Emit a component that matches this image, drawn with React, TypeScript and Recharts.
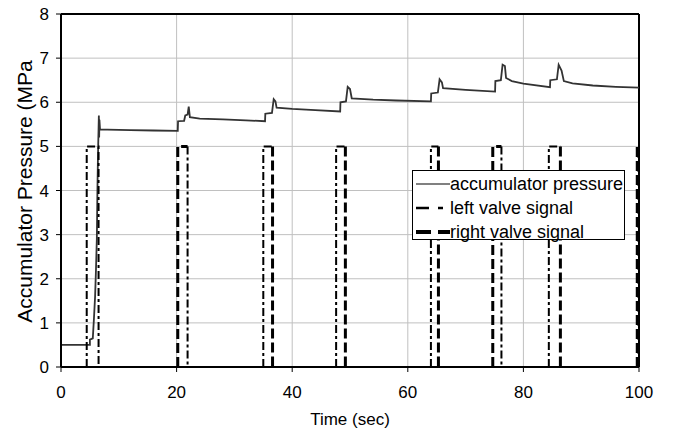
import React from 'react';
import {
  LineChart,
  Line,
  XAxis,
  YAxis,
  CartesianGrid,
  Legend,
  Label,
  ReferenceLine
} from 'recharts';

// Accumulator pressure trace (time in sec, pressure in MPa)
const pressureTime = [
  0, 2, 5.0, 5.0, 5.5, 5.7, 5.9, 6.05, 6.2, 6.3, 6.4, 6.55, 6.6, 6.65, 6.75,
  8, 12, 16, 20.2, 20.25, 21.3, 21.5, 21.9, 22.1, 22.3, 24, 28, 32, 35.3,
  35.35, 36.5, 36.8, 37.1, 37.3, 40, 44, 48.3, 48.35, 49.3, 49.6, 50.0, 50.3,
  54, 58, 64, 64.05, 65.2, 65.5, 65.9, 66.1, 70, 75.1, 75.15, 76.1, 76.4,
  76.8, 77, 78, 80, 84.6, 84.65, 85.8, 86.1, 86.6, 87.0, 88.5, 92, 96, 100
];
const pressureValue = [
  0.5, 0.5, 0.5, 0.62, 0.65, 1.1, 1.6, 2.2, 2.9, 4.0, 4.8, 5.7, 5.2, 5.6, 5.38,
  5.38, 5.37, 5.36, 5.35, 5.57, 5.58, 5.7, 5.72, 5.9, 5.66, 5.63, 5.61, 5.59, 5.57,
  5.74, 5.76, 6.07, 6.02, 5.88, 5.85, 5.82, 5.79, 6.0, 6.02, 6.35, 6.3, 6.09,
  6.06, 6.04, 6.02, 6.2, 6.22, 6.52, 6.45, 6.32, 6.28, 6.24, 6.48, 6.5, 6.85,
  6.82, 6.55, 6.48, 6.42, 6.34, 6.5, 6.52, 6.85, 6.72, 6.48, 6.43, 6.38, 6.35, 6.33
];

// Valve signal pulses (sec); which signal draws the opening / closing edge
const valveOn = [4.45, 20.2, 35.0, 47.6, 64.0, 74.7, 84.4, 99.7];
const valveOff = [6.5, 21.9, 36.6, 49.2, 65.3, 76.2, 86.4, 100];
const openedBy = ['left', 'right', 'left', 'left', 'left', 'right', 'left', 'right'];
const closedBy = ['left', 'left', 'right', 'right', 'right', 'left', 'right', 'right'];
const valveHigh = 5;

const xTicks = [0, 20, 40, 60, 80, 100];
const yTicks = [0, 1, 2, 3, 4, 5, 6, 7, 8];

const FONT = '"Liberation Sans", Arial, sans-serif';

const pressureData = pressureTime.map((t, i) => ({ t, v: pressureValue[i] }));

function valveSeries(side: string) {
  const pts: { t: number; v: number | null }[] = [];
  valveOn.forEach((on, i) => {
    const off = valveOff[i];
    if (openedBy[i] === side) {
      pts.push({ t: on, v: 0 }, { t: on, v: valveHigh }, { t: off, v: valveHigh });
      if (closedBy[i] === side) pts.push({ t: off, v: 0 });
      pts.push({ t: off, v: null });
    } else if (closedBy[i] === side) {
      pts.push({ t: off, v: valveHigh }, { t: off, v: 0 }, { t: off, v: null });
    }
  });
  return pts;
}

const leftValveData = valveSeries('left');
const rightValveData = valveSeries('right');

const legendItems = [
  { name: 'accumulator pressure', stroke: '#808080', width: 2, dash: undefined },
  { name: 'left valve signal', stroke: '#000', width: 2.5, dash: '13 9 5 9' },
  { name: 'right valve signal', stroke: '#000', width: 4, dash: '15 7' }
];

const ChartLegend = () => (
  <div
    style={{
      width: 211,
      height: 68,
      border: '1px solid #000',
      background: '#fff',
      fontFamily: FONT,
      fontSize: 18,
      color: '#000'
    }}
  >
    {legendItems.map((item, i) => (
      <div key={item.name} style={{ position: 'relative', height: 24, marginTop: i === 0 ? 0 : 0 }}>
        <svg width={36} height={24} style={{ position: 'absolute', left: 2, top: 0 }}>
          <line
            x1={1}
            x2={35}
            y1={13}
            y2={13}
            stroke={item.stroke}
            strokeWidth={item.width}
            strokeDasharray={item.dash}
          />
        </svg>
        <span style={{ position: 'absolute', left: 37, top: 2, lineHeight: '22px', whiteSpace: 'nowrap' }}>
          {item.name}
        </span>
      </div>
    ))}
  </div>
);

const YTitle = ({ viewBox }: any) => {
  const cx = viewBox.x + 32;
  const cy = viewBox.y + viewBox.height / 2 + 1;
  return (
    <text
      x={cx}
      y={cy}
      transform={`rotate(-90, ${cx}, ${cy})`}
      textAnchor="middle"
      fontFamily={FONT}
      fontSize={21}
      fill="#000"
    >
      Accumulator Pressure (MPa
    </text>
  );
};

export default function App() {
  const tickStyle = { fill: '#000', fontSize: 17, fontFamily: FONT };
  return (
    <div style={{ position: 'absolute', left: 0, top: 0, width: 673, height: 434, background: '#fff' }}>
      <LineChart width={673} height={434} margin={{ top: 14, right: 34, left: 0, bottom: 0 }}>
        <CartesianGrid stroke="#c0c0c0" strokeWidth={1} />
        <XAxis
          dataKey="t"
          type="number"
          domain={[0, 100]}
          ticks={xTicks}
          height={67}
          allowDataOverflow
          axisLine={{ stroke: '#000', strokeWidth: 2 }}
          tickLine={{ stroke: '#000', strokeWidth: 1 }}
          tickSize={5}
          tickMargin={14}
          tick={tickStyle}
        >
          <Label
            value="Time (sec)"
            position="insideBottom"
            offset={9}
            style={{ fontFamily: FONT, fontSize: 17, fill: '#000' }}
          />
        </XAxis>
        <YAxis
          type="number"
          domain={[0, 8]}
          ticks={yTicks}
          width={61}
          allowDataOverflow
          axisLine={{ stroke: '#000', strokeWidth: 2 }}
          tickLine={{ stroke: '#000', strokeWidth: 1 }}
          tickSize={5}
          tickMargin={7}
          tick={tickStyle}
        >
          <Label content={YTitle} />
        </YAxis>
        <ReferenceLine y={8} stroke="#000" strokeWidth={2} />
        <ReferenceLine x={100} stroke="#000" strokeWidth={2} />
        <Line
          data={pressureData}
          dataKey="v"
          name="accumulator pressure"
          type="linear"
          stroke="#333"
          strokeWidth={1.8}
          dot={false}
          isAnimationActive={false}
        />
        <Line
          data={leftValveData}
          dataKey="v"
          name="left valve signal"
          type="linear"
          stroke="#000"
          strokeWidth={2}
          strokeDasharray="8 3 3 3"
          dot={false}
          connectNulls={false}
          isAnimationActive={false}
        />
        <Line
          data={rightValveData}
          dataKey="v"
          name="right valve signal"
          type="linear"
          stroke="#000"
          strokeWidth={3}
          strokeDasharray="10 4"
          dot={false}
          connectNulls={false}
          isAnimationActive={false}
        />
        <Legend
          layout="vertical"
          align="center"
          verticalAlign="middle"
          content={<ChartLegend />}
          wrapperStyle={{ left: 412, top: 170, width: 213, height: 70 }}
        />
      </LineChart>
    </div>
  );
}
